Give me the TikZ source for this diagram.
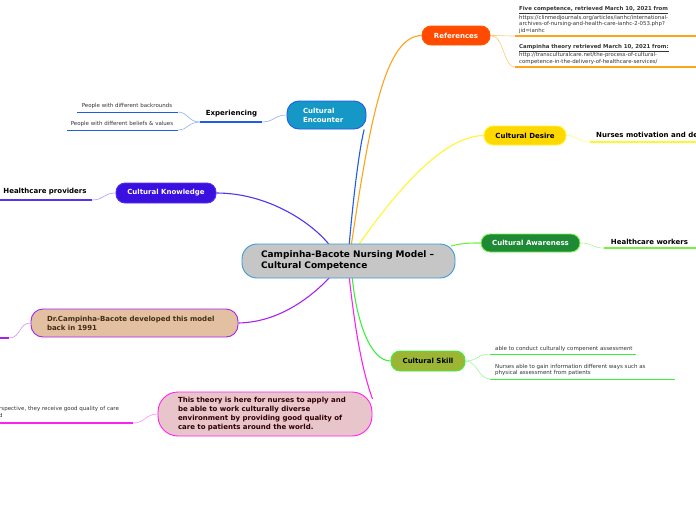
\documentclass[tikz,border=0pt]{standalone}
\usepackage{fontspec}
\setmainfont{DejaVu Sans}
\usetikzlibrary{positioning, backgrounds}
\definecolor{corefill}{HTML}{C6C6C6}
\definecolor{coreline}{HTML}{3A9AD9}
\definecolor{refcol}{HTML}{FF4A00}
\definecolor{refline}{HTML}{FFA31A}
\definecolor{enccol}{HTML}{1698C6}
\definecolor{encline}{HTML}{1F5CE8}
\definecolor{knowcol}{HTML}{3A10E0}
\definecolor{knowline}{HTML}{5533F0}
\definecolor{descol}{HTML}{FFD800}
\definecolor{desline}{HTML}{FFF633}
\definecolor{awacol}{HTML}{1F8A36}
\definecolor{awaline}{HTML}{77F044}
\definecolor{skicol}{HTML}{9AB634}
\definecolor{skiline}{HTML}{3DF03D}
\definecolor{thecol}{HTML}{E8C5CB}
\definecolor{theline}{HTML}{FF22EE}
\definecolor{drcol}{HTML}{E3C0A1}
\definecolor{drline}{HTML}{A722F0}
\definecolor{notecolor}{HTML}{333333}

\begin{document}
\begin{tikzpicture}[x=1pt, y=-1pt,
    every node/.style={font=\fontsize{7}{9}\selectfont\bfseries, inner sep=0pt},
    link/.style={line width=1.1pt},
    twig/.style={line width=0.6pt},
    rule/.style={line width=1.2pt},
    thinrule/.style={line width=0.9pt},
    topic/.style={rectangle, rounded corners=9pt, line width=0.9pt, align=center,
        text=white, minimum height=19pt},
    sub/.style={text=black},
    note/.style={font=\fontsize{5.5}{6.5}\selectfont, text=notecolor, align=left},
    refnote/.style={note, font=\fontsize{5.4}{6.5}\selectfont},
]

% ================================================================ canvas
\useasboundingbox (0,0) rectangle (696,520);
\clip (0,0) rectangle (696,520);

% ================================================================ core
\node[topic, rounded corners=15pt, fill=corefill, draw=coreline, text=black, align=left,
    font=\fontsize{9}{11}\selectfont\bfseries, inner xsep=19pt, text width=175pt,
    minimum height=34pt]
    (core) at (348.5,261) {Campinha-Bacote Nursing Model –\\Cultural Competence};
\coordinate (hub-refs) at (351,247);
\coordinate (hub-enc)  at (349,247);
\coordinate (hub-des)  at (357,247);
\coordinate (hub-know) at (331,247);
\coordinate (hub-awa)  at (451,246);
\coordinate (hub-dr)   at (332,275);
\coordinate (hub-ski)  at (352,275);
\coordinate (hub-the)  at (349,275);

% ================================================================ branches
\node[topic, fill=refcol, draw=refcol!70!orange, minimum width=68pt] (refs) at (456,35.5) {References};
\node[topic, fill=enccol, draw=encline, align=left, rounded corners=12pt,
    inner xsep=16pt, text width=47pt, minimum height=28pt] (enc) at (326.5,115) {Cultural\\Encounter};
\node[topic, fill=knowcol, draw=knowline, minimum width=100pt, minimum height=20pt]
    (know) at (166,193) {Cultural Knowledge};
\node[topic, fill=descol, draw=desline, text=black, minimum width=82pt] (des) at (525,135.5) {Cultural Desire};
\node[topic, fill=awacol, draw=awaline, minimum width=99pt, minimum height=18pt]
    (awa) at (530.5,243) {Cultural Awareness};
\node[topic, fill=skicol, draw=skiline, text=black, minimum width=74pt, minimum height=20pt]
    (ski) at (428,361) {Cultural Skill};
\node[topic, fill=thecol, draw=theline, text=black!70!red!60!black, align=left, rounded corners=20pt,
    inner xsep=20pt, text width=174pt, minimum height=44pt] (the) at (265,414)
    {This theory is here for nurses to apply and\\be able to work culturally diverse\\environment by providing good quality of\\care to patients around the world.};
\node[topic, fill=drcol, draw=drline, text=black!65!brown, align=left, rounded corners=12pt,
    inner xsep=16pt, text width=175pt, minimum height=28pt] (dr) at (134.5,323)
    {Dr.Campinha-Bacote developed this model\\back in 1991};

% ================================================================ references
\node[refnote, anchor=south west] (ref1) at (519,33.5)
    {\textbf{\underline{Five competence, retrieved March 10, 2021 from}}\\
    https://clinmedjournals.org/articles/ianhc/international-\\
    archives-of-nursing-and-health-care-ianhc-2-053.php?\\jid=ianhc};
\coordinate (ref1-l) at (515,36);
\coordinate (ref1-r) at (696,36);
\node[refnote, anchor=south west] (ref2) at (519,64.5)
    {\textbf{\underline{Campinha theory retrieved March 10, 2021 from:}}\\
    http://transculturalcare.net/the-process-of-cultural-\\
    competence-in-the-delivery-of-healthcare-services/};
\coordinate (ref2-l) at (515,67);
\coordinate (ref2-r) at (696,67);
\draw[rule, refline] (ref1-l) -- (ref1-r);
\draw[rule, refline] (ref2-l) -- (ref2-r);

% ================================================================ encounter
\node[sub] (exp) at (231.5,114) {Experiencing};
\coordinate (exp-l) at (200,122);
\coordinate (exp-r) at (262,122);
\draw[rule, encline] (exp-l) -- (exp-r);
\node[note] (exp1) at (127,106) {People with different backrounds};
\coordinate (exp1-l) at (77,112);
\coordinate (exp1-r) at (178,112);
\node[note] (exp2) at (122,124) {People with different beliefs \& values};
\coordinate (exp2-l) at (67,130);
\coordinate (exp2-r) at (178,130);
\draw[thinrule, encline] (exp1-l) -- (exp1-r);
\draw[thinrule, encline] (exp2-l) -- (exp2-r);

% ================================================================ knowledge, desire, awareness
\node[sub] (prov) at (45,192) {Healthcare providers};
\coordinate (prov-l) at (0,200);
\coordinate (prov-r) at (92,200);
\draw[rule, knowline] (prov-l) -- (prov-r);

\node[sub, anchor=west] (motiv) at (596,135) {Nurses motivation and de};
\coordinate (motiv-l) at (590,142);
\coordinate (motiv-r) at (696,142);
\draw[rule, desline] (motiv-l) -- (motiv-r);

\node[sub] (work) at (649.5,242) {Healthcare workers};
\coordinate (work-l) at (604,248);
\coordinate (work-r) at (696,248);
\draw[rule, awaline] (work-l) -- (work-r);

% ================================================================ skill
\node[note, anchor=west] (assess) at (495,349) {able to conduct culturally compenent assessment};
\coordinate (assess-l) at (490,354);
\coordinate (assess-r) at (636,354);
\node[note, anchor=south west] (gain) at (495,376)
    {Nurses able to gain information different ways such as\\physical assessment from patients};
\coordinate (gain-l) at (490,379);
\coordinate (gain-r) at (675,379);
\draw[thinrule, skiline] (assess-l) -- (assess-r);
\draw[thinrule, skiline] (gain-l) -- (gain-r);

% ================================================================ theory, dr
\node[note, anchor=north west] (persp) at (-1,406.5)
    {rspective, they receive good quality of care\\d};
\coordinate (persp-l) at (0,423);
\coordinate (persp-r) at (133,423);
\draw[rule, theline] (persp-l) -- (persp-r);

\coordinate (year-l) at (0,338);
\coordinate (year-r) at (9,338);
\draw[rule, drline] (year-l) -- (year-r);

% ================================================================ connectors
\begin{scope}[on background layer]
    \draw[link, refline] (hub-refs) .. controls (370,120) and (385,36) .. (refs.west);
    \draw[link, encline] (hub-enc) .. controls (353,200) and (359,150) .. (enc.-21);
    \draw[link, knowline] (hub-know) .. controls (315,225) and (270,193) .. (know.east);
    \draw[link, desline] (hub-des) .. controls (390,200) and (440,136) .. (des.west);
    \draw[link, awaline] (hub-awa) .. controls (462,243) and (470,243) .. (awa.west);
    \draw[link, drline] (hub-dr) .. controls (318,290) and (285,322) .. (dr.east);
    \draw[link, skiline] (hub-ski) .. controls (356,320) and (370,361) .. (ski.west);
    \draw[link, theline] (hub-the) .. controls (355,330) and (362,370) .. (the.8);

    \draw[twig, refline!60] (refs.east) .. controls +(14,0) and +(-12,0) .. (ref1-l);
    \draw[twig, refline!60] (refs.east) .. controls +(14,0) and +(-12,0) .. (ref2-l);
    \draw[twig, encline!50] (enc.west) .. controls +(-12,0) and +(12,0) .. (exp-r);
    \draw[twig, encline!50] (exp-l) .. controls +(-12,0) and +(10,0) .. (exp1-r);
    \draw[twig, encline!50] (exp-l) .. controls +(-12,0) and +(10,0) .. (exp2-r);
    \draw[twig, knowline!50] (know.west) .. controls +(-12,0) and +(12,0) .. (prov-r);
    \draw[twig, desline!50!yellow!60] (des.east) .. controls +(12,0) and +(-12,0) .. (motiv-l);
    \draw[twig, awaline!60] (awa.east) .. controls +(12,0) and +(-12,0) .. (work-l);
    \draw[twig, skiline!50] (ski.east) .. controls +(12,0) and +(-12,0) .. (assess-l);
    \draw[twig, skiline!50] (ski.east) .. controls +(12,0) and +(-12,0) .. (gain-l);
    \draw[twig, theline!50] (the.west) .. controls +(-12,0) and +(12,0) .. (persp-r);
    \draw[twig, drline!50] (dr.west) .. controls +(-12,0) and +(12,0) .. (year-r);
\end{scope}

\end{tikzpicture}
\end{document}
